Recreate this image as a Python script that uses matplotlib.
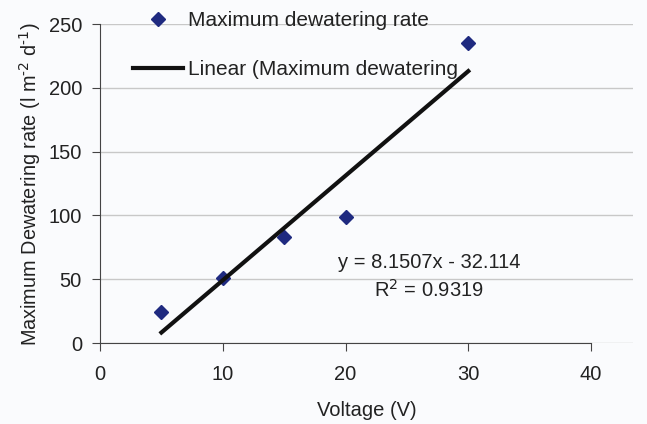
import matplotlib.pyplot as plt
import numpy as np

plt.rcParams['font.family'] = ['Liberation Sans', 'DejaVu Sans']

voltage = [5, 10, 15, 20, 30]
rate = [24, 51, 83, 99, 235]

# linear trend line (as in the original Excel chart)
slope, intercept = np.polyfit(voltage, rate, 1)
fit_x = np.array([min(voltage), max(voltage)])
fit_y = slope * fit_x + intercept

fs = 14.5
fig = plt.figure(figsize=(6.47, 4.24), dpi=100)
fig.patch.set_facecolor('#fafbfd')
ax = fig.add_axes([0.1546, 0.191, 0.8234, 0.752])
ax.set_facecolor('#fafbfd')

ax.plot(voltage, rate, 'D', color='#1f2a80', markersize=7, label='Maximum dewatering rate')
ax.plot(fit_x, fit_y, color='#111111', linewidth=3, label='Linear (Maximum dewatering')

ax.set_xlim(0, 43.4)
ax.set_ylim(0, 250)
ax.set_xticks([0, 10, 20, 30, 40])
ax.set_yticks([0, 50, 100, 150, 200, 250])
ax.yaxis.grid(True, color='#c8c8c8', linewidth=1)
ax.set_axisbelow(True)
for s in ['top', 'right']:
    ax.spines[s].set_visible(False)
ax.spines['bottom'].set_bounds(0, 40)
ax.spines['left'].set_color('#444444')
ax.spines['bottom'].set_color('#444444')
ax.tick_params(direction='out', length=6, color='#444444', labelsize=fs, labelcolor='#222222', pad=7)
ax.tick_params(axis='x', pad=10)

ax.set_xlabel('Voltage (V)', fontsize=fs, color='#222222', labelpad=12)
ax.set_ylabel(r'Maximum Dewatering rate (l m$^{\text{-2}}$ d$^{\text{-1}}$)', fontsize=14.3,
              color='#222222', labelpad=4)

ax.text(26.8, 63.5, 'y = 8.1507x - 32.114', fontsize=fs, color='#222222', ha='center', va='center')
ax.text(26.8, 41.5, 'R$^2$ = 0.9319', fontsize=fs, color='#222222', ha='center', va='center')

leg = ax.legend(loc='upper left', bbox_to_anchor=(0.062, 1.04), frameon=False, fontsize=15,
                handlelength=2.4, handletextpad=0.25, labelspacing=1.42, borderaxespad=0,
                borderpad=0)
for t in leg.get_texts():
    t.set_color('#222222')

fig.savefig('out.png', dpi=100, facecolor=fig.get_facecolor())
